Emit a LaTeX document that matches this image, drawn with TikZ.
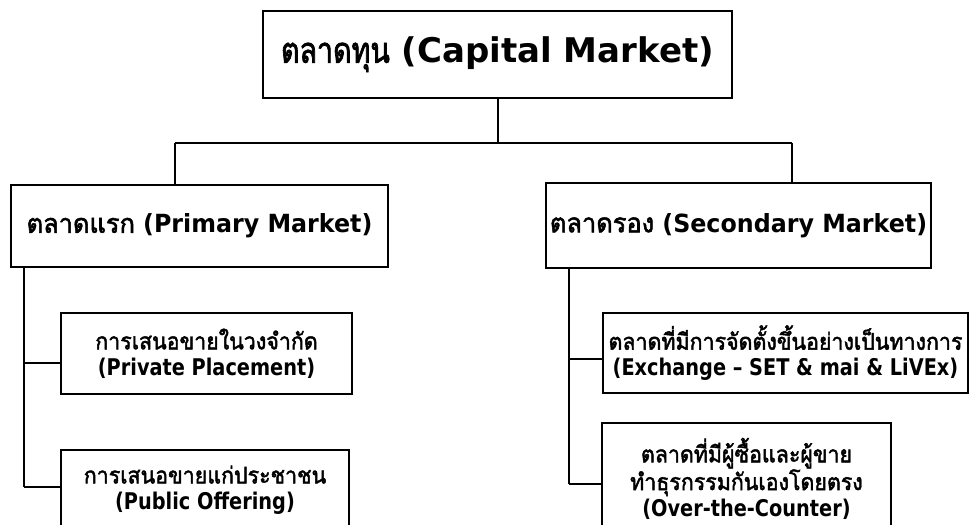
\documentclass[tikz,border=0pt]{standalone}
\usepackage{fontspec}
\setmainfont{DejaVu Sans}
\newfontfamily\latmid[FakeStretch=0.95]{DejaVu Sans}
\newfontfamily\latsmall[FakeStretch=0.84]{DejaVu Sans}
\newfontfamily\thaifont[Script=Thai,Scale=1.0,FakeStretch=0.93,BoldFont={Loma},BoldFeatures={FakeBold=2}]{Loma}
\newfontfamily\thaihead[Script=Thai,Scale=1.06,FakeStretch=0.96,BoldFont={Loma},BoldFeatures={FakeBold=2}]{Loma}
\newfontfamily\thaitop[Script=Thai,Scale=1.05,FakeStretch=0.8,BoldFont={Loma},BoldFeatures={FakeBold=2}]{Loma}
\newcommand\thtxt[1]{{\thaifont #1}}
\newcommand\thhd[1]{{\thaihead #1}}
\newcommand\thtp[1]{{\thaitop #1}}
\begin{document}
\begin{tikzpicture}[x=1pt,y=-1pt,
  box/.style={draw, line width=2pt, inner sep=0pt, align=center, font=\bfseries},
  conn/.style={line width=2pt},
  big/.style={font=\bfseries\fontsize{34}{40}\selectfont},
  mid/.style={font=\latmid\bfseries\fontsize{25}{30}\selectfont},
  small/.style={font=\latsmall\bfseries\fontsize{23}{26}\selectfont}]
\useasboundingbox (0,0) rectangle (970,525);
\clip (0,0) rectangle (970,525);
\node[box,big,minimum width=469pt,minimum height=87pt] (top) at (497.5,54.5) {\thtp{ตลาดทุน} (Capital Market)};
\node[box,mid,minimum width=377pt,minimum height=82pt] (prim) at (199.5,226) {\thhd{ตลาดแรก} (Primary Market)};
\node[box,mid,minimum width=385pt,minimum height=85pt] (sec) at (738.5,225.5) {\thhd{ตลาดรอง} (Secondary Market)};
\node[box,small,minimum width=291pt,minimum height=81pt] (priv) at (206.5,353.5) {\thtxt{การเสนอขายในวงจำกัด}\\(Private Placement)};
\node[box,small,minimum width=288pt,minimum height=80pt] (pub) at (205,490) {\thtxt{การเสนอขายแก่ประชาชน}\\(Public Offering)};
\node[box,small,minimum width=365pt,minimum height=80pt] (exch) at (785.5,353) {\thtxt{ตลาดที่มีการจัดตั้งขึ้นอย่างเป็นทางการ}\\(Exchange – SET \& mai \& LiVEx)};
\node[box,small,minimum width=289pt,minimum height=111pt] (otc) at (746.5,478.5) {\thtxt{ตลาดที่มีผู้ซื้อและผู้ขาย}\\\thtxt{ทำธุรกรรมกันเองโดยตรง}\\(Over-the-Counter)};
\coordinate (hl) at (175,143);
\coordinate (hr) at (792,143);
\draw[conn] (top.south) -- (top.south |- hl);
\draw[conn] (hl) -- (hr);
\draw[conn] (hl) -- (hl |- prim.north);
\draw[conn] (hr) -- (hr |- sec.north);
\coordinate (l1) at (24,363);
\coordinate (l2) at (24,487);
\draw[conn] (l1 |- prim.south) -- (l2);
\draw[conn] (l1) -- (l1 -| priv.west);
\draw[conn] (l2) -- (l2 -| pub.west);
\coordinate (r1) at (569,359);
\coordinate (r2) at (569,484);
\draw[conn] (r1 |- sec.south) -- (r2);
\draw[conn] (r1) -- (r1 -| exch.west);
\draw[conn] (r2) -- (r2 -| otc.west);
\end{tikzpicture}
\end{document}
